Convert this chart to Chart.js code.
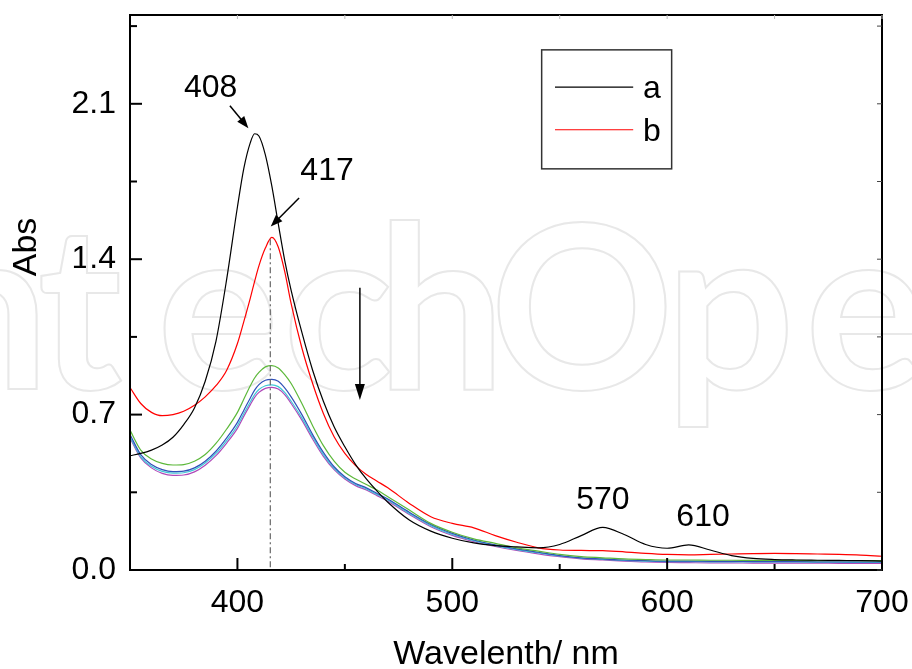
<!DOCTYPE html>
<html lang="en">
<head>
  <meta charset="UTF-8" />
  <title>UV-Vis spectra</title>
  <script src="https://cdn.jsdelivr.net/npm/chart.js"></script>
  <style>
    body {
      margin: 0;
      background: #fff;
    }
    #wrap {
      width: 912px;
      height: 669px;
    }
  </style>
</head>
<body>
  <div id="wrap">
    <canvas id="spectra" width="912" height="669"></canvas>
  </div>

  <script>
    // wavelengths (nm) shared by every curve
    const wavelengths = [350, 355, 360, 365, 370, 375, 380, 385, 390, 395, 400, 403, 406, 408, 410, 413, 416, 419, 422, 425,
      430, 435, 440, 445, 450, 455, 460, 465, 470, 480, 490, 500, 510, 520, 530, 540, 550, 560, 570, 580,
      590, 600, 610, 620, 630, 640, 650, 660, 670, 680, 690, 700];

    // curve a (black)
    const absA = [0.515, 0.525, 0.54, 0.563, 0.598, 0.655, 0.73, 0.85, 1.03, 1.31, 1.635, 1.81, 1.925, 1.965, 1.955, 1.87, 1.73, 1.56, 1.395, 1.26,
      1.07, 0.90, 0.76, 0.645, 0.555, 0.475, 0.41, 0.355, 0.305, 0.225, 0.175, 0.143, 0.122, 0.11, 0.104, 0.10, 0.115, 0.155, 0.192, 0.16,
      0.115, 0.098, 0.113, 0.09, 0.065, 0.052, 0.047, 0.045, 0.044, 0.043, 0.042, 0.04];

    // curve b (red)
    const absB = [0.822, 0.75, 0.71, 0.695, 0.70, 0.715, 0.742, 0.78, 0.83, 0.90, 1.02, 1.12, 1.225, 1.30, 1.37, 1.45, 1.498, 1.455, 1.345, 1.20,
      1.00, 0.84, 0.705, 0.60, 0.525, 0.47, 0.43, 0.40, 0.37, 0.30, 0.24, 0.21, 0.19, 0.155, 0.125, 0.10, 0.09, 0.088, 0.087, 0.082,
      0.075, 0.07, 0.068, 0.07, 0.072, 0.074, 0.075, 0.074, 0.072, 0.07, 0.067, 0.062];

    // further titration curves (not in legend)
    const absC = [0.63, 0.54, 0.50, 0.48, 0.473, 0.475, 0.49, 0.52, 0.57, 0.635, 0.71, 0.77, 0.83, 0.865, 0.89, 0.915, 0.921, 0.91, 0.88, 0.84,
      0.75, 0.65, 0.56, 0.49, 0.44, 0.41, 0.385, 0.36, 0.33, 0.27, 0.21, 0.17, 0.14, 0.12, 0.10, 0.085, 0.07, 0.06, 0.055, 0.05,
      0.047, 0.045, 0.045, 0.044, 0.044, 0.043, 0.043, 0.043, 0.042, 0.042, 0.042, 0.042];
    const absD = [0.61, 0.52, 0.475, 0.452, 0.443, 0.445, 0.46, 0.49, 0.535, 0.595, 0.665, 0.72, 0.775, 0.81, 0.835, 0.855, 0.859, 0.85, 0.82, 0.78,
      0.70, 0.61, 0.53, 0.465, 0.42, 0.39, 0.37, 0.345, 0.32, 0.26, 0.205, 0.165, 0.135, 0.113, 0.095, 0.08, 0.065, 0.055, 0.05, 0.045,
      0.042, 0.04, 0.04, 0.039, 0.039, 0.038, 0.038, 0.038, 0.037, 0.037, 0.036, 0.036];
    const absE = [0.60, 0.51, 0.467, 0.444, 0.436, 0.438, 0.452, 0.482, 0.525, 0.583, 0.65, 0.705, 0.757, 0.79, 0.813, 0.83, 0.834, 0.826, 0.80, 0.76,
      0.685, 0.60, 0.52, 0.458, 0.415, 0.385, 0.365, 0.34, 0.315, 0.255, 0.20, 0.16, 0.132, 0.11, 0.092, 0.077, 0.063, 0.053, 0.048, 0.043,
      0.04, 0.038, 0.038, 0.037, 0.037, 0.036, 0.036, 0.036, 0.035, 0.035, 0.034, 0.034];
    const absF = [0.595, 0.505, 0.46, 0.435, 0.426, 0.428, 0.442, 0.472, 0.515, 0.572, 0.638, 0.693, 0.745, 0.778, 0.80, 0.818, 0.823, 0.815, 0.79, 0.75,
      0.675, 0.59, 0.512, 0.452, 0.41, 0.38, 0.36, 0.335, 0.31, 0.25, 0.195, 0.156, 0.128, 0.106, 0.088, 0.073, 0.06, 0.05, 0.045, 0.04,
      0.036, 0.034, 0.033, 0.032, 0.032, 0.031, 0.031, 0.031, 0.031, 0.030, 0.030, 0.030];

    const xTicks = [400, 500, 600, 700];
    const xMinor = [450, 550, 650];
    const yTicks = [0, 0.7, 1.4, 2.1];
    const yMinor = [0.35, 1.05, 1.75, 2.45];

    const FONT = '"Liberation Sans", Arial, sans-serif';

    function pts(arr) {
      return wavelengths.map((w, i) => ({ x: w, y: arr[i] }));
    }

    function line(label, arr, color) {
      return {
        label: label,
        data: pts(arr),
        borderColor: color,
        backgroundColor: color,
        borderWidth: 1.2,
        pointRadius: 0,
        fill: false,
        cubicInterpolationMode: 'monotone'
      };
    }

    function arrow(ctx, x1, y1, x2, y2, head, wid) {
      const a = Math.atan2(y2 - y1, x2 - x1);
      ctx.beginPath();
      ctx.moveTo(x1, y1);
      ctx.lineTo(x2 - Math.cos(a) * head * 0.8, y2 - Math.sin(a) * head * 0.8);
      ctx.stroke();
      ctx.beginPath();
      ctx.moveTo(x2, y2);
      ctx.lineTo(x2 - Math.cos(a) * head + Math.sin(a) * wid, y2 - Math.sin(a) * head - Math.cos(a) * wid);
      ctx.lineTo(x2 - Math.cos(a) * head - Math.sin(a) * wid, y2 - Math.sin(a) * head + Math.cos(a) * wid);
      ctx.closePath();
      ctx.fill();
    }

    // faint publisher watermark behind the curves
    const wmLetters = ['n', 't', 'e', 'c', 'h', 'O', 'p', 'e'];
    const wmCenters = [-15, 80, 218, 338, 441, 582, 730, 866];
    const watermark = {
      id: 'watermark',
      beforeDatasetsDraw(chart) {
        const ctx = chart.ctx;
        ctx.save();
        ctx.font = '700 228px Lato, sans-serif';
        ctx.strokeStyle = '#e8e8e8';
        ctx.lineWidth = 2;
        ctx.textAlign = 'center';
        ctx.textBaseline = 'alphabetic';
        wmLetters.forEach((ch, i) => ctx.strokeText(ch, wmCenters[i], 389));
        ctx.restore();
      }
    };

    const decorations = {
      id: 'decorations',
      afterDatasetsDraw(chart) {
        const ctx = chart.ctx;
        const xs = chart.scales.x, ys = chart.scales.y;
        const a = chart.chartArea;
        const X = v => xs.getPixelForValue(v);
        const Y = v => ys.getPixelForValue(v);
        ctx.save();

        // frame
        ctx.strokeStyle = '#000';
        ctx.lineWidth = 2;
        ctx.strokeRect(a.left, a.top, a.right - a.left, a.bottom - a.top);

        // inward ticks
        ctx.lineWidth = 2;
        xTicks.forEach(v => { ctx.beginPath(); ctx.moveTo(X(v), a.bottom); ctx.lineTo(X(v), a.bottom - 12); ctx.stroke(); });
        xMinor.forEach(v => { ctx.beginPath(); ctx.moveTo(X(v), a.bottom); ctx.lineTo(X(v), a.bottom - 6); ctx.stroke(); });
        yTicks.forEach(v => { ctx.beginPath(); ctx.moveTo(a.left, Y(v)); ctx.lineTo(a.left + 12, Y(v)); ctx.stroke(); });
        yMinor.forEach(v => { ctx.beginPath(); ctx.moveTo(a.left, Y(v)); ctx.lineTo(a.left + 7, Y(v)); ctx.stroke(); });
        ctx.lineWidth = 1;
        ctx.strokeStyle = '#444';
        yTicks.concat(yMinor).forEach(v => { ctx.beginPath(); ctx.moveTo(a.right, Y(v)); ctx.lineTo(a.right - 5, Y(v)); ctx.stroke(); });
        ctx.strokeStyle = '#bbb';
        xTicks.concat(xMinor).forEach(v => { ctx.beginPath(); ctx.moveTo(X(v), a.top); ctx.lineTo(X(v), a.top + 4); ctx.stroke(); });

        // dash-dot guide at the 417 band
        ctx.strokeStyle = '#666';
        ctx.lineWidth = 1.2;
        ctx.setLineDash([6, 3, 2, 3]);
        ctx.beginPath();
        ctx.moveTo(X(415.3), Y(1.49));
        ctx.lineTo(X(415.3), Y(0));
        ctx.stroke();
        ctx.setLineDash([]);

        // arrows
        ctx.strokeStyle = '#000';
        ctx.fillStyle = '#000';
        ctx.lineWidth = 1.5;
        arrow(ctx, X(396.5), Y(2.091), X(405.1), Y(1.99), 12, 4.5);
        arrow(ctx, X(428.7), Y(1.676), X(415.5), Y(1.547), 12, 4.5);
        arrow(ctx, X(457), Y(1.271), X(457), Y(0.766), 16, 5);

        // peak labels
        ctx.font = '32px ' + FONT;
        ctx.textAlign = 'center';
        ctx.textBaseline = 'middle';
        ctx.fillText('408', X(387.5), Y(2.17));
        ctx.fillText('417', X(441.7), Y(1.798));
        ctx.fillText('570', X(570.1), Y(0.315));
        ctx.fillText('610', X(616.7), Y(0.239));

        // legend
        ctx.fillStyle = '#fff';
        const lx1 = X(541.6), lx2 = X(602.1), ly1 = Y(2.343), ly2 = Y(1.807);
        ctx.fillRect(lx1, ly1, lx2 - lx1, ly2 - ly1);
        ctx.strokeStyle = '#333';
        ctx.lineWidth = 1.5;
        ctx.strokeRect(lx1, ly1, lx2 - lx1, ly2 - ly1);
        const items = [[chart.data.datasets[0], 2.175], [chart.data.datasets[1], 1.983]];
        ctx.textAlign = 'left';
        ctx.fillStyle = '#000';
        items.forEach(([ds, yv]) => {
          ctx.strokeStyle = ds.borderColor;
          ctx.lineWidth = 1.2;
          ctx.beginPath();
          ctx.moveTo(X(547.8), Y(yv));
          ctx.lineTo(X(584.2), Y(yv));
          ctx.stroke();
          ctx.fillText(ds.label, X(588.8), Y(yv) + 2);
        });

        // axis titles
        ctx.font = '34px ' + FONT;
        ctx.textAlign = 'center';
        ctx.fillText('Wavelenth/ nm', (a.left + a.right) / 2, 655);
        ctx.save();
        ctx.translate(27, 247);
        ctx.rotate(-Math.PI / 2);
        ctx.fillText('Abs', 0, 0);
        ctx.restore();

        ctx.restore();
      }
    };

    new Chart(document.getElementById('spectra'), {
      type: 'line',
      data: {
        datasets: [
          line('a', absA, '#000000'),
          line('b', absB, '#ff0000'),
          line('c', absC, '#5cb83a'),
          line('d', absD, '#3050b8'),
          line('e', absE, '#40c8d8'),
          line('f', absF, '#b048b8')
        ]
      },
      options: {
        responsive: false,
        animation: false,
        layout: { padding: { top: 15, right: 30, left: 0, bottom: 0 } },
        plugins: {
          legend: { display: false },
          tooltip: { enabled: false }
        },
        scales: {
          x: {
            type: 'linear',
            min: 350,
            max: 700,
            afterFit: s => { s.height = 99; s.paddingLeft = 0; s.paddingRight = 0; },
            afterBuildTicks: s => { s.ticks = xTicks.map(v => ({ value: v })); },
            grid: { display: false, drawTicks: false, tickLength: 0 },
            border: { display: true, color: '#000', width: 2 },
            ticks: {
              padding: 14,
              color: '#000',
              maxRotation: 0,
              font: { family: FONT, size: 32 }
            }
          },
          y: {
            type: 'linear',
            min: 0,
            max: 2.5,
            afterFit: s => { s.width = 130; s.paddingTop = 0; s.paddingBottom = 0; },
            afterBuildTicks: s => { s.ticks = yTicks.map(v => ({ value: v })); },
            grid: { display: false, drawTicks: false, tickLength: 0 },
            border: { display: true, color: '#000', width: 2 },
            ticks: {
              padding: 14,
              color: '#000',
              font: { family: FONT, size: 32 },
              callback: v => v.toFixed(1)
            }
          }
        }
      },
      plugins: [watermark, decorations]
    });
  </script>
</body>
</html>
